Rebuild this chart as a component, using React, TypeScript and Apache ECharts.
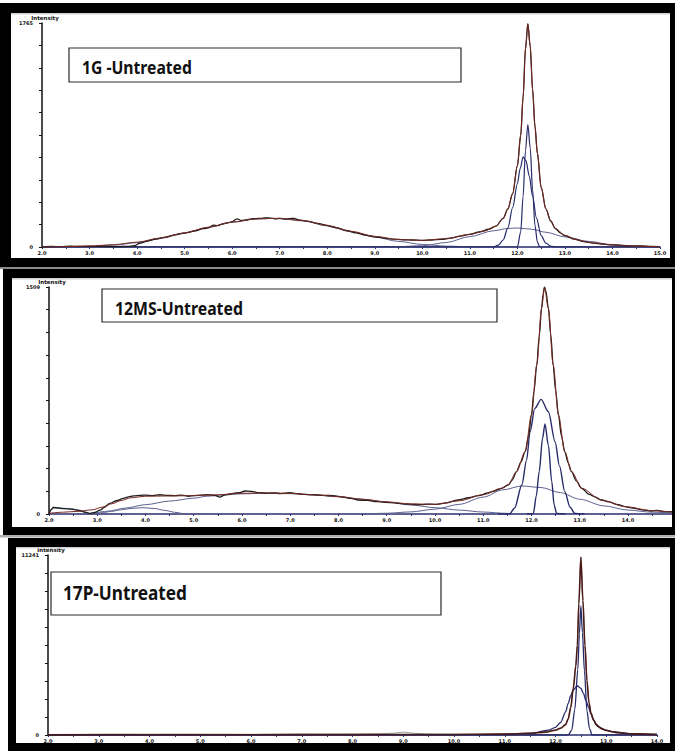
import React, { useEffect, useRef } from "react";
import * as echarts from "echarts";

type Pt = [number, number];

// ---------- Panel titles and axis settings ----------
const TITLES = ["1G -Untreated", "12MS-Untreated", "17P-Untreated"];
const Y_MAX = [1765, 1509, 11241];
const X_MIN = 2;
const X_MAX = [15, 14.95, 14];

// ---------- Panel 1 (1G) ----------
const P1_OBS: Pt[] = [
  [2.0, 2], [2.2, 4], [2.4, 3], [2.6, 6], [2.8, 5], [3.0, 6], [3.2, 5], [3.4, 4], [3.6, 3], [3.8, 5],
  [3.95, 10], [4.05, 28], [4.2, 45], [4.4, 62], [4.6, 78], [4.8, 96], [5.0, 110], [5.2, 126], [5.4, 145],
  [5.5, 150], [5.6, 172], [5.7, 168], [5.8, 182], [5.9, 190], [6.0, 200], [6.1, 222], [6.2, 208],
  [6.3, 214], [6.4, 222], [6.5, 224], [6.6, 226], [6.7, 230], [6.8, 228], [6.9, 222], [7.0, 226],
  [7.1, 220], [7.2, 224], [7.3, 226], [7.4, 214], [7.6, 202], [7.8, 186], [8.0, 170], [8.1, 158],
  [8.2, 150], [8.4, 130], [8.6, 112], [8.8, 94], [9.0, 80], [9.2, 70], [9.4, 62], [9.6, 57], [9.8, 55],
  [10.0, 52], [10.2, 55], [10.4, 60], [10.6, 70], [10.8, 86], [11.0, 100], [11.2, 118], [11.4, 140],
  [11.55, 165], [11.7, 225], [11.8, 300], [11.9, 420], [12.0, 640], [12.07, 880], [12.12, 1180],
  [12.17, 1560], [12.22, 1760], [12.27, 1580], [12.32, 1240], [12.37, 950], [12.42, 740], [12.5, 470],
  [12.6, 300], [12.7, 205], [12.8, 145], [12.9, 112], [13.0, 90], [13.2, 62], [13.4, 42], [13.6, 30],
  [13.8, 22], [14.0, 16], [14.2, 12], [14.4, 8], [14.6, 9], [14.8, 4], [15.0, 3],
];
const P1_FIT: Pt[] = [
  [2.0, 0], [2.5, 3], [3.0, 8], [3.5, 18], [4.0, 38], [4.5, 72], [5.0, 112], [5.5, 156], [6.0, 196],
  [6.5, 222], [7.0, 226], [7.5, 208], [8.0, 170], [8.5, 124], [9.0, 84], [9.5, 58], [10.0, 52],
  [10.5, 66], [11.0, 100], [11.3, 125], [11.55, 165], [11.7, 225], [11.8, 300], [11.9, 420], [12.0, 640],
  [12.07, 880], [12.12, 1180], [12.17, 1560], [12.22, 1755], [12.27, 1580], [12.32, 1240], [12.37, 950],
  [12.42, 740], [12.5, 470], [12.6, 300], [12.7, 205], [12.8, 145], [13.0, 92], [13.25, 56], [13.5, 36],
  [14.0, 16], [14.5, 6], [15.0, 2],
];
const P1_HUMP: Pt[] = [
  [2.0, 0], [2.5, 1], [3.0, 4], [3.5, 14], [4.0, 34], [4.5, 68], [5.0, 110], [5.5, 155], [6.0, 195],
  [6.5, 220], [6.8, 225], [7.0, 223], [7.5, 205], [8.0, 166], [8.5, 120], [9.0, 78], [9.5, 44],
  [10.0, 20], [10.5, 7], [11.0, 2], [11.5, 0], [15.0, 0],
];
const P1_BROAD: Pt[] = [
  [2.0, 0], [9.0, 0], [9.5, 3], [10.0, 10], [10.5, 35], [11.0, 82], [11.5, 128], [11.8, 146], [12.0, 150],
  [12.3, 140], [12.6, 116], [13.0, 80], [13.5, 44], [14.0, 18], [14.5, 6], [15.0, 1],
];
const P1_MED: Pt[] = [
  [2.0, 0], [11.5, 0], [11.6, 15], [11.7, 55], [11.8, 150], [11.9, 310], [12.0, 500], [12.06, 620],
  [12.12, 710], [12.18, 680], [12.25, 560], [12.32, 400], [12.4, 230], [12.5, 90], [12.6, 30],
  [12.7, 8], [12.8, 0], [15.0, 0],
];
const P1_NARROW: Pt[] = [
  [2.0, 0], [12.0, 0], [12.07, 120], [12.12, 400], [12.17, 760], [12.22, 965], [12.27, 780],
  [12.32, 450], [12.37, 170], [12.42, 40], [12.47, 0], [15.0, 0],
];

// ---------- Panel 2 (12MS) ----------
const P2_OBS: Pt[] = [
  [2.0, 0], [2.05, 30], [2.09, 44], [2.2, 40], [2.3, 36], [2.47, 33], [2.6, 25], [2.75, 12], [2.85, 4],
  [2.95, 10], [3.06, 26], [3.15, 45], [3.26, 71], [3.4, 88], [3.54, 104], [3.65, 114], [3.75, 120],
  [3.9, 124], [4.0, 126], [4.15, 122], [4.3, 128], [4.45, 124], [4.6, 122], [4.75, 126], [4.9, 118],
  [5.0, 122], [5.13, 126], [5.3, 128], [5.45, 122], [5.54, 112], [5.65, 128], [5.82, 137], [5.95, 142],
  [6.06, 153], [6.2, 150], [6.35, 142], [6.51, 137], [6.65, 140], [6.8, 136], [6.99, 142], [7.15, 135],
  [7.3, 130], [7.5, 128], [7.7, 124], [7.89, 122], [8.1, 112], [8.25, 104], [8.41, 93], [8.6, 90],
  [8.8, 82], [8.96, 78], [9.2, 72], [9.4, 66], [9.52, 64], [9.7, 62], [9.85, 66], [10.0, 64],
  [10.2, 72], [10.48, 93], [10.7, 108], [10.9, 122], [11.1, 140], [11.2, 150], [11.38, 171],
  [11.52, 193], [11.6, 225], [11.69, 282], [11.78, 345], [11.87, 415], [11.94, 520], [12.0, 658],
  [12.05, 810], [12.11, 991], [12.16, 1180], [12.21, 1368], [12.24, 1460], [12.27, 1510], [12.3, 1480],
  [12.35, 1368], [12.4, 1190], [12.45, 991], [12.5, 820], [12.56, 658], [12.62, 520], [12.69, 415],
  [12.76, 340], [12.83, 282], [12.93, 220], [13.04, 171], [13.2, 130], [13.3, 116], [13.45, 93],
  [13.6, 80], [13.8, 62], [13.94, 49], [14.1, 40], [14.3, 28], [14.49, 20], [14.6, 24], [14.75, 16],
  [14.95, 15],
];
const P2_FIT: Pt[] = [
  [2.0, 5], [2.3, 12], [2.6, 18], [2.9, 28], [3.1, 45], [3.3, 68], [3.5, 90], [3.7, 108], [4.0, 118],
  [4.5, 120], [5.0, 122], [5.5, 128], [6.0, 138], [6.5, 140], [7.0, 137], [7.5, 128], [8.0, 116],
  [8.5, 98], [9.0, 80], [9.5, 67], [10.0, 64], [10.5, 88], [11.0, 128], [11.38, 171], [11.52, 195],
  [11.69, 282], [11.87, 415], [12.0, 658], [12.11, 991], [12.21, 1368], [12.27, 1505], [12.35, 1368],
  [12.45, 991], [12.56, 658], [12.69, 415], [12.83, 282], [13.04, 171], [13.45, 93], [13.94, 49],
  [14.49, 22], [14.95, 12],
];
const P2_STEP: Pt[] = [
  [2.0, 0], [2.04, 30], [2.09, 40], [2.3, 38], [2.47, 34], [2.65, 20], [2.8, 6], [2.9, 0], [3.2, 0],
];
const P2_SMALL: Pt[] = [
  [2.85, 0], [3.1, 8], [3.3, 18], [3.5, 28], [3.7, 37], [3.95, 42], [4.2, 36], [4.4, 24], [4.6, 12],
  [4.75, 4], [4.9, 0], [5.3, 0],
];
const P2_HUMP: Pt[] = [
  [2.85, 0], [3.2, 18], [3.6, 40], [4.0, 62], [4.5, 86], [5.0, 105], [5.27, 118], [5.6, 126], [6.0, 134],
  [6.5, 138], [7.0, 135], [7.5, 126], [8.0, 114], [8.5, 98], [9.0, 80], [9.5, 60], [10.0, 42],
  [10.5, 26], [11.0, 13], [11.5, 4], [12.0, 0],
];
const P2_BROAD: Pt[] = [
  [8.5, 0], [9.0, 5], [9.5, 14], [10.0, 32], [10.5, 64], [11.0, 112], [11.4, 160], [11.8, 186],
  [12.2, 176], [12.6, 142], [13.0, 98], [13.5, 54], [14.0, 26], [14.5, 12], [14.95, 6],
];
const P2_MED: Pt[] = [
  [11.3, 0], [11.55, 2], [11.65, 40], [11.8, 193], [11.9, 360], [11.97, 547], [12.07, 702], [12.2, 762],
  [12.35, 680], [12.49, 480], [12.58, 320], [12.69, 149], [12.8, 45], [12.9, 4], [13.1, 0],
];
const P2_NARROW: Pt[] = [
  [11.9, 0], [12.04, 4], [12.1, 120], [12.16, 282], [12.23, 504], [12.28, 598], [12.35, 458],
  [12.42, 216], [12.47, 60], [12.52, 4], [12.7, 0],
];

// ---------- Panel 3 (17P) ----------
const P3_OBS: Pt[] = [
  [2.0, 30], [2.5, 40], [3.0, 55], [3.5, 60], [4.0, 50], [4.5, 60], [5.0, 55], [5.5, 50], [6.0, 45],
  [6.5, 55], [7.0, 60], [7.5, 55], [8.0, 60], [8.5, 80], [8.8, 110], [9.0, 180], [9.2, 110], [9.5, 60],
  [10.0, 50], [10.5, 55], [11.0, 70], [11.5, 120], [11.8, 200], [12.0, 320], [12.1, 450], [12.2, 700],
  [12.25, 1050], [12.3, 1750], [12.35, 2950], [12.4, 4350], [12.43, 5600], [12.46, 8200], [12.5, 11100],
  [12.54, 8400], [12.58, 5600], [12.62, 3400], [12.66, 2050], [12.7, 1350], [12.75, 950], [12.8, 660],
  [12.9, 420], [13.0, 290], [13.2, 160], [13.5, 80], [14.0, 30],
];
const P3_FIT: Pt[] = [
  [2.0, 10], [4.0, 15], [6.0, 20], [8.0, 25], [10.0, 30], [11.0, 55], [11.5, 105], [11.8, 180],
  [12.0, 300], [12.1, 420], [12.2, 650], [12.25, 1000], [12.3, 1700], [12.35, 2900], [12.4, 4300],
  [12.43, 5600], [12.46, 8200], [12.5, 11100], [12.54, 8400], [12.58, 5600], [12.62, 3400],
  [12.66, 2000], [12.7, 1350], [12.75, 950], [12.8, 650], [12.9, 400], [13.0, 280], [13.2, 150],
  [13.5, 70], [14.0, 25],
];
const P3_WIDE: Pt[] = [
  [2.0, 0], [8.0, 5], [10.0, 15], [11.0, 40], [11.5, 100], [11.86, 300], [12.0, 480], [12.1, 780],
  [12.2, 1450], [12.25, 1980], [12.3, 2450], [12.35, 2820], [12.43, 3060], [12.5, 2920], [12.55, 2600],
  [12.6, 2150], [12.65, 1750], [12.7, 1300], [12.75, 900], [12.84, 520], [13.0, 300], [13.1, 210],
  [13.5, 80], [14.0, 30],
];
const P3_NARROW: Pt[] = [
  [2.0, 0], [12.25, 0], [12.32, 300], [12.38, 1600], [12.44, 4100], [12.47, 6300], [12.5, 8060],
  [12.53, 6400], [12.57, 4000], [12.62, 1500], [12.67, 400], [12.72, 0], [14.0, 0],
];

// ---------- layout (pixels) ----------
const GRIDS = [
  { left: 42, top: 23, width: 618, height: 224 },
  { left: 49, top: 287, width: 624.8, height: 227 },
  { left: 48, top: 555, width: 609, height: 180 },
];
const FRAMES = [
  { o: [0, 3, 675, 267], i: [11, 13, 670, 258] },
  { o: [3, 269, 675, 535], i: [12, 278, 672, 527] },
  { o: [8, 538, 675, 751], i: [16, 547, 670, 743] },
];
const BOXES = [
  { x: 69, y: 48, w: 392, h: 34, tx: 82, ty: 67.5, tw: 110, fs: 18 },
  { x: 102, y: 289, w: 395, h: 33, tx: 115, ty: 308, tw: 128, fs: 18 },
  { x: 51, y: 572, w: 390, h: 43, tx: 63, ty: 592, tw: 124, fs: 20 },
];

const C_OBS = "#1c1c1c";
const C_FIT = "#7a2a22";
const C_COMP = "#272a6a";
const C_BROAD = "#5d6190";
const TITLE_FONT = '"Noto Sans"';

function measure(text: string, fs: number): number {
  const c = document.createElement("canvas").getContext("2d");
  if (!c) return text.length * fs * 0.58;
  c.font = `bold ${fs}px ${TITLE_FONT}`;
  return c.measureText(text).width;
}

export default function App() {
  const ref = useRef<HTMLDivElement>(null);
  useEffect(() => {
    if (!ref.current) return;
    const chart = echarts.init(ref.current, null, { renderer: "svg" });

    const line = (data: Pt[], color: string, width: number, gi: number, z: number) => ({
      type: "line",
      xAxisIndex: gi,
      yAxisIndex: gi,
      data,
      symbol: "none",
      showSymbol: false,
      smooth: 0.3,
      smoothMonotone: "x",
      silent: true,
      z,
      lineStyle: { color, width },
    });

    const series: any[] = [
      line(P1_HUMP, C_BROAD, 1, 0, 3),
      line(P1_BROAD, C_BROAD, 1, 0, 3),
      line(P1_MED, C_COMP, 1.2, 0, 3),
      line(P1_NARROW, C_COMP, 1.2, 0, 3),
      line(P1_OBS, C_OBS, 1.3, 0, 4),
      line(P1_FIT, C_FIT, 1, 0, 5),

      line(P2_STEP, C_BROAD, 1, 1, 3),
      line(P2_SMALL, C_BROAD, 1, 1, 3),
      line(P2_HUMP, C_BROAD, 1, 1, 3),
      line(P2_BROAD, C_BROAD, 1, 1, 3),
      line(P2_MED, C_COMP, 1.4, 1, 3),
      line(P2_NARROW, C_COMP, 1.4, 1, 3),
      line(P2_OBS, C_OBS, 1.3, 1, 4),
      line(P2_FIT, C_FIT, 1, 1, 5),

      line(P3_OBS, "#9a9a9a", 1, 2, 3),
      line(P3_WIDE, C_COMP, 1.3, 2, 3),
      line(P3_NARROW, C_COMP, 1.3, 2, 3),
      line(P3_FIT, "#4a1a16", 1.6, 2, 5),
    ];

    const grid = GRIDS.map((g) => ({ ...g, containLabel: false, outerBoundsMode: "none" }));
    const labelStyle = { fontSize: 5, fontWeight: "bold", color: "#111", fontFamily: "DejaVu Sans" };

    const xAxis = GRIDS.map((_, i) => ({
      gridIndex: i,
      type: "value",
      min: X_MIN,
      max: X_MAX[i],
      interval: 1,
      axisLine: { show: true, lineStyle: { color: "#2b2e6e", width: 1.5 } },
      axisTick: { show: true, length: 2, lineStyle: { color: "#2b2e6e" } },
      minorTick: { show: true, splitNumber: 2, length: 2, lineStyle: { color: "#2b2e6e" } },
      axisLabel: {
        ...labelStyle,
        margin: 3,
        showMaxLabel: i !== 1,
        formatter: (v: number) => v.toFixed(1),
      },
      splitLine: { show: false },
    }));

    const yAxis = Y_MAX.map((m, i) => ({
      gridIndex: i,
      type: "value",
      min: 0,
      max: m,
      interval: m / 10,
      name: "Intensity",
      nameLocation: "end",
      nameGap: 2,
      nameTextStyle: { ...labelStyle, fontSize: 5.5, padding: [0, 0, 0, 6] },
      axisLine: { show: true, lineStyle: { color: "#111", width: 1.5 } },
      axisTick: { show: true, length: 3, lineStyle: { color: "#111" } },
      axisLabel: {
        ...labelStyle,
        margin: 9,
        formatter: (v: number) => (v === 0 ? "0" : Math.abs(v - m) < 1e-6 ? String(m) : ""),
      },
      splitLine: { show: false },
    }));

    const graphic: any[] = [];
    FRAMES.forEach((f) => {
      const [ox1, oy1, ox2, oy2] = f.o;
      const [ix1, iy1, ix2, iy2] = f.i;
      const st = { fill: "#000" };
      graphic.push(
        { type: "rect", z: 100, silent: true, shape: { x: ox1, y: oy1, width: ox2 - ox1, height: iy1 - oy1 }, style: st },
        { type: "rect", z: 100, silent: true, shape: { x: ox1, y: iy2, width: ox2 - ox1, height: oy2 - iy2 }, style: st },
        { type: "rect", z: 100, silent: true, shape: { x: ox1, y: oy1, width: ix1 - ox1, height: oy2 - oy1 }, style: st },
        { type: "rect", z: 100, silent: true, shape: { x: ix2, y: oy1, width: ox2 - ix2, height: oy2 - oy1 }, style: st },
        { type: "rect", z: 99, silent: true, shape: { x: ix1, y: iy1, width: ix2 - ix1, height: 1.5 }, style: { fill: "#d0d0d0" } }
      );
    });
    graphic.push(
      { type: "rect", z: 98, silent: true, shape: { x: 0, y: 266.5, width: 675, height: 2.5 }, style: { fill: "#8a8a8a" } },
      { type: "rect", z: 98, silent: true, shape: { x: 0, y: 535, width: 675, height: 2.5 }, style: { fill: "#b0b0b0" } }
    );
    BOXES.forEach((b, i) => {
      const w = measure(TITLES[i], b.fs);
      graphic.push(
        {
          type: "rect",
          z: 50,
          silent: true,
          shape: { x: b.x, y: b.y, width: b.w, height: b.h },
          style: { fill: "#fff", stroke: "#2a2a2a", lineWidth: 1.2 },
        },
        {
          type: "text",
          z: 51,
          silent: true,
          x: b.tx,
          y: b.ty,
          scaleX: b.tw / w,
          style: {
            text: TITLES[i],
            fontSize: b.fs,
            fontWeight: "bold",
            fontFamily: TITLE_FONT,
            fill: "#111",
            align: "left",
            verticalAlign: "middle",
          },
        }
      );
    });

    chart.setOption({
      animation: false,
      backgroundColor: "#fff",
      grid,
      xAxis,
      yAxis,
      series,
      graphic,
    });
    return () => chart.dispose();
  }, []);

  return (
    <div
      ref={ref}
      style={{ position: "fixed", left: 0, top: 0, width: 675, height: 751, background: "#fff" }}
    />
  );
}
